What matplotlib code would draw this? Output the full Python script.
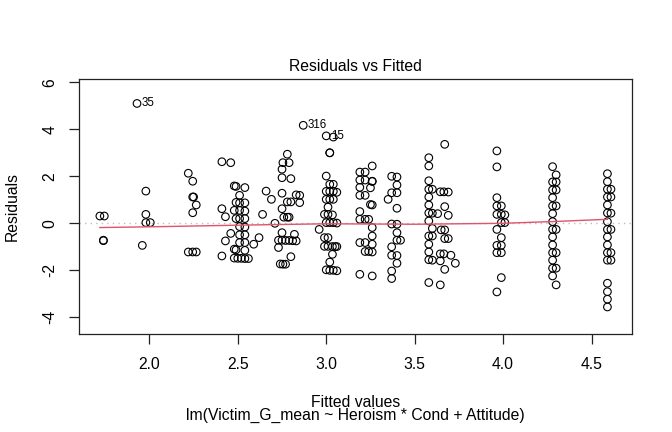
import numpy as np
import matplotlib
matplotlib.use("Agg")
import matplotlib.pyplot as plt

plt.rcParams['font.family'] = ['Liberation Sans', 'DejaVu Sans']
plt.rcParams['axes.unicode_minus'] = False

# fitted values and residuals
fitted = [
    1.72, 1.745, 1.74, 1.74,
    1.93, 1.98, 1.98, 1.98, 2.005, 1.96,
    2.22, 2.245, 2.245, 2.25, 2.265, 2.245, 2.22, 2.245, 2.265,
    2.41, 2.46, 2.41, 2.43, 2.46, 2.43, 2.41,
    2.48, 2.49, 2.54, 2.51, 2.49, 2.51, 2.54, 2.48, 2.51, 2.54, 2.49, 2.51, 2.54,
    2.51, 2.54, 2.51, 2.54, 2.51, 2.54, 2.48, 2.49, 2.54, 2.48, 2.50, 2.52, 2.54, 2.56,
    2.59, 2.62, 2.64, 2.66, 2.69, 2.71,
    2.78, 2.755, 2.79, 2.75, 2.75, 2.80, 2.75, 2.78, 2.80, 2.83, 2.85, 2.85, 2.75,
    2.76, 2.78, 2.79, 2.75, 2.73, 2.75, 2.77, 2.79, 2.81, 2.83, 2.82, 2.73, 2.80,
    2.74, 2.755, 2.77,
    2.87, 3.0, 3.04, 3.02, 3.02, 3.0, 3.02, 3.04, 3.0, 3.02, 3.04, 3.06, 3.0, 3.02,
    3.04, 3.01, 2.99, 3.01, 3.035, 3.0, 3.02, 3.04, 3.06, 2.96, 2.99, 3.01, 2.99,
    3.01, 3.035, 3.05, 3.06, 3.035, 3.02, 3.0, 3.02, 3.04, 3.06,
    3.19, 3.22, 3.26, 3.19, 3.22, 3.26, 3.26, 3.19, 3.25, 3.19, 3.22, 3.25, 3.26,
    3.19, 3.19, 3.22, 3.24, 3.26, 3.26, 3.19, 3.22, 3.26, 3.22, 3.24, 3.26, 3.19, 3.26,
    3.37, 3.40, 3.40, 3.37, 3.40, 3.35, 3.40, 3.37, 3.40, 3.40, 3.40, 3.42, 3.37,
    3.37, 3.40, 3.40, 3.37, 3.37,
    3.58, 3.58, 3.67, 3.58, 3.58, 3.60, 3.645, 3.665, 3.69, 3.58, 3.58, 3.67, 3.58,
    3.60, 3.63, 3.69, 3.58, 3.60, 3.65, 3.67, 3.58, 3.60, 3.67, 3.69, 3.58, 3.58,
    3.645, 3.665, 3.705, 3.58, 3.60, 3.645, 3.73, 3.67, 3.58, 3.645,
    3.965, 3.965, 3.965, 3.965, 3.99, 3.965, 3.99, 4.01, 3.99, 4.01, 3.965, 3.99,
    3.965, 3.99, 3.965, 3.99, 3.99, 3.965,
    4.28, 4.30, 4.28, 4.30, 4.28, 4.30, 4.28, 4.28, 4.30, 4.28, 4.28, 4.28, 4.30,
    4.28, 4.28, 4.28, 4.30, 4.28, 4.28, 4.30, 4.28, 4.30,
    4.59, 4.59, 4.59, 4.61, 4.59, 4.61, 4.59, 4.59, 4.61, 4.59, 4.59, 4.61, 4.59,
    4.59, 4.59, 4.61, 4.59, 4.61, 4.59, 4.59, 4.59, 4.59,
]
resid = [
    0.31, 0.31, -0.72, -0.74,
    5.10, 1.37, 0.38, 0.03, 0.03, -0.94,
    2.13, 1.79, 1.12, 1.12, 0.78, 0.45, -1.22, -1.22, -1.22,
    2.62, 2.58, 0.62, 0.28, -0.43, -0.75, -1.39,
    1.59, 1.57, 1.52, 1.19, 0.89, 0.87, 0.87, 0.55, 0.55, 0.52, 0.20, 0.20, 0.20,
    -0.14, -0.16, -0.49, -0.49, -0.82, -0.82, -1.10, -1.13, -1.15, -1.48, -1.49, -1.49, -1.50, -1.50,
    -0.89, -0.61, 0.38, 1.37, 1.02, 0.0,
    2.94, 2.58, 2.58, 2.30, 1.94, 1.90, 1.28, 0.91, 0.91, 1.21, 1.19, 0.88, 0.62,
    0.26, 0.26, 0.26, -0.40, -0.72, -0.72, -0.73, -0.73, -0.74, -0.75, -0.47, -1.03, -1.42,
    -1.73, -1.74, -1.74,
    4.17, 3.72, 3.67, 3.0, 3.0, 2.01, 1.66, 1.66, 1.36, 1.36, 1.36, 1.32, 1.02, 1.02,
    1.02, 0.69, 0.38, 0.38, 0.36, 0.03, 0.03, 0.03, 0.01, -0.26, -0.61, -0.61, -0.98,
    -0.98, -0.99, -0.99, -0.99, -1.32, -1.65, -1.98, -2.0, -2.0, -2.02,
    2.18, 2.18, 2.44, 1.84, 1.84, 1.79, 1.78, 1.53, 1.51, 1.19, 1.19, 0.80, 0.78,
    0.50, 0.17, 0.17, 0.17, -0.18, -0.54, -0.82, -0.82, -0.89, -1.20, -1.20, -1.22, -2.17, -2.24,
    2.0, 1.97, 1.63, 1.30, 1.30, 1.02, 0.64, -0.03, -0.04, -0.40, -0.72, -0.72, -1.0,
    -1.36, -1.37, -1.70, -2.03, -2.35,
    2.79, 2.44, 3.36, 1.81, 1.45, 1.45, 1.34, 1.34, 1.33, 1.12, 0.78, 0.71, 0.44,
    0.43, 0.41, 0.34, 0.10, -0.22, -0.28, -0.28, -0.54, -0.54, -0.65, -0.65, -0.89, -1.22,
    -1.30, -1.30, -1.36, -1.55, -1.57, -1.60, -1.70, -1.96, -2.52, -2.62,
    3.08, 2.40, 1.09, 0.74, 0.74, 0.38, 0.38, 0.36, 0.03, 0.03, -0.26, -0.61,
    -0.94, -0.94, -1.25, -1.25, -2.31, -2.92,
    2.41, 2.06, 1.76, 1.76, 1.42, 1.42, 1.09, 0.74, 0.74, 0.41, 0.07, -0.26, -0.26,
    -0.58, -0.92, -1.25, -1.25, -1.57, -1.91, -1.91, -2.24, -2.62,
    2.11, 1.77, 1.45, 1.45, 1.12, 1.12, 0.78, 0.44, 0.43, 0.07, -0.26, -0.26, -0.58,
    -0.92, -1.25, -1.25, -1.57, -1.57, -2.55, -2.91, -3.23, -3.56,
]

# labelled extreme points
label_ids = ["35", "316", "15"]
label_x = [1.93, 2.87, 3.0]
label_y = [5.10, 4.17, 3.72]

# smoother line
smooth_x = [1.72, 2.0, 2.5, 3.0, 3.5, 4.0, 4.3, 4.59]
smooth_y = [-0.18, -0.15, -0.08, -0.02, -0.04, 0.0, 0.08, 0.17]

xticks = [2.0, 2.5, 3.0, 3.5, 4.0, 4.5]
yticks = [-4, -2, 0, 2, 4, 6]

fig = plt.figure(figsize=(6.72, 4.32), dpi=100)
ax = fig.add_axes([79/672, 1 - 334/432, (632-79)/672, (334-79)/432])

ax.axhline(0, color="#BEBEBE", lw=1.0, ls=(0, (1, 3)), zorder=1)
ax.scatter(fitted, resid, s=30, facecolors="none", edgecolors="black",
           linewidths=0.8, zorder=2)
ax.plot(smooth_x, smooth_y, color="#DF536B", lw=1.0, zorder=3)

for lab, lx, ly in zip(label_ids, label_x, label_y):
    ax.annotate(lab, (lx, ly), xytext=(3.2, 0), textcoords="offset points",
                ha="left", va="center", fontsize=8.3)

ax.set_xlim(1.602, 4.729)
ax.set_ylim(-4.71, 6.14)
ax.set_xticks(xticks)
ax.set_xticklabels([f"{t:.1f}" for t in xticks])
ax.set_yticks(yticks)
ax.set_yticklabels([str(t) for t in yticks], rotation=90, va="center")

for sp in ax.spines.values():
    sp.set_linewidth(0.9)
    sp.set_color("#222222")
ax.tick_params(direction="out", length=7.5, width=0.9, labelsize=11.3,
               colors="#222222", labelcolor="black")
ax.tick_params(axis="x", pad=9)
ax.tick_params(axis="y", pad=8)

fig.text(355.5/672, 1 - 71/432, "Residuals vs Fitted", ha="center",
         va="baseline", fontsize=11.3)
fig.text(355.5/672, 1 - 407/432, "Fitted values", ha="center",
         va="baseline", fontsize=11.3)
fig.text(355.5/672, 1 - 420/432, "lm(Victim_G_mean ~ Heroism * Cond + Attitude)",
         ha="center", va="baseline", fontsize=11.3)
fig.text(12/672, 1 - 206.5/432, "Residuals", ha="center", va="center",
         rotation=90, fontsize=11.3)

fig.savefig("out.png", dpi=100)
